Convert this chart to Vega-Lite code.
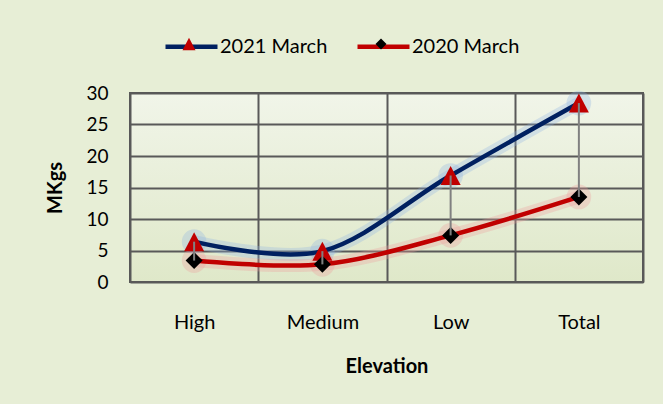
{
  "$schema": "https://vega.github.io/schema/vega-lite/v6.json",
  "width": 513,
  "height": 189,
  "autosize": "none",
  "padding": {"left": 130, "top": 93, "right": 20, "bottom": 122},
  "background": "#e7eed6",
  "config": {
    "font": "Lato",
    "view": {
      "stroke": "#595959",
      "strokeWidth": 2,
      "fill": {"gradient": "linear", "x1": 0, "y1": 0, "x2": 0, "y2": 1, "stops": [{"offset": 0, "color": "#f1f5e9"}, {"offset": 1, "color": "#dfe8c9"}]}
    },
    "axis": {
      "gridColor": "#595959",
      "gridWidth": 2,
      "gridOpacity": 1,
      "domain": false,
      "ticks": false,
      "labelColor": "#000000",
      "titleColor": "#000000",
      "labelFont": "Lato",
      "titleFont": "Lato",
      "labelFontWeight": "normal",
      "titleFontWeight": "bold",
      "titleFontSize": 20
    },
    "axisY": {
      "tickCount": 7,
      "labelOverlap": false,
      "labelFontSize": 19,
      "labelPadding": 22,
      "titlePadding": 20,
      "grid": true
    },
    "axisX": {
      "labelAngle": 0,
      "labelFontSize": 20,
      "labelPadding": 30,
      "titlePadding": 24,
      "grid": true,
      "tickBand": "extent"
    }
  },
  "data": {
    "values": [
      {"Elevation": "High", "Series": "2021 March", "MKgs": 6.4},
      {"Elevation": "Medium", "Series": "2021 March", "MKgs": 4.9},
      {"Elevation": "Low", "Series": "2021 March", "MKgs": 16.9},
      {"Elevation": "Total", "Series": "2021 March", "MKgs": 28.4},
      {"Elevation": "High", "Series": "2020 March", "MKgs": 3.4},
      {"Elevation": "Medium", "Series": "2020 March", "MKgs": 2.8},
      {"Elevation": "Low", "Series": "2020 March", "MKgs": 7.4},
      {"Elevation": "Total", "Series": "2020 March", "MKgs": 13.5}
    ]
  },
  "encoding": {
    "x": {
      "field": "Elevation",
      "type": "nominal",
      "sort": ["High", "Medium", "Low", "Total"],
      "scale": {"type": "band", "paddingInner": 0, "paddingOuter": 0},
      "axis": {"title": "Elevation"}
    },
    "y": {
      "field": "MKgs",
      "type": "quantitative",
      "scale": {"domain": [0, 30]},
      "axis": {"title": "MKgs"}
    }
  },
  "layer": [
    {
      "mark": {"type": "line", "interpolate": "cardinal", "strokeWidth": 13, "opacity": 0.3},
      "encoding": {
        "stroke": {"field": "Series", "type": "nominal", "scale": {"range": ["#f09c9c", "#8fb4e3"]}, "legend": null}
      }
    },
    {
      "mark": {"type": "point", "filled": false, "shape": "circle", "size": 160, "strokeWidth": 12, "opacity": 0.3},
      "encoding": {
        "stroke": {"field": "Series", "type": "nominal", "legend": null}
      }
    },
    {
      "mark": {"type": "line", "interpolate": "cardinal", "strokeWidth": 4.5},
      "encoding": {
        "color": {
          "field": "Series",
          "type": "nominal",
          "scale": {"domain": ["2021 March", "2020 March"], "range": ["#002060", "#c00000"]},
          "legend": {
            "orient": "none",
            "legendX": 33,
            "legendY": -75,
            "direction": "horizontal",
            "title": null,
            "padding": 0,
            "symbolType": "stroke",
            "symbolSize": 2704,
            "symbolStrokeWidth": 4.5,
            "labelFontSize": 20,
            "labelFont": "Lato",
            "labelColor": "#000000",
            "labelOffset": 0,
            "columnPadding": 20
          }
        }
      }
    },
    {
      "mark": {"type": "point", "filled": true, "opacity": 1, "size": 400},
      "encoding": {
        "fill": {
          "field": "Series",
          "type": "nominal",
          "sort": "descending",
          "scale": {"range": ["#c00000", "#000000"]},
          "legend": {
            "orient": "none",
            "legendX": 49,
            "legendY": -59,
            "direction": "horizontal",
            "title": null,
            "padding": 0,
            "symbolSize": 169,
            "labelFontSize": 20,
            "labelExpr": "''",
            "labelOffset": 0,
            "columnPadding": 172
          }
        },
        "shape": {
          "field": "Series",
          "type": "nominal",
          "sort": "descending",
          "scale": {"range": ["M0,-0.95L1,0.95L-1,0.95Z", "M-0.85,0L0,-0.85L0.85,0L0,0.85Z"]},
          "legend": {
            "orient": "none",
            "legendX": 49,
            "legendY": -59,
            "direction": "horizontal",
            "title": null,
            "padding": 0,
            "symbolSize": 169,
            "labelFontSize": 20,
            "labelExpr": "''",
            "labelOffset": 0,
            "columnPadding": 172
          }
        }
      }
    },
    {
      "transform": [{"pivot": "Series", "value": "MKgs", "groupby": ["Elevation"]}],
      "mark": {"type": "rule", "color": "#808080", "strokeWidth": 2},
      "encoding": {
        "y": {"field": "2021 March", "type": "quantitative", "axis": {"title": "MKgs"}},
        "y2": {"field": "2020 March"}
      }
    }
  ]
}
